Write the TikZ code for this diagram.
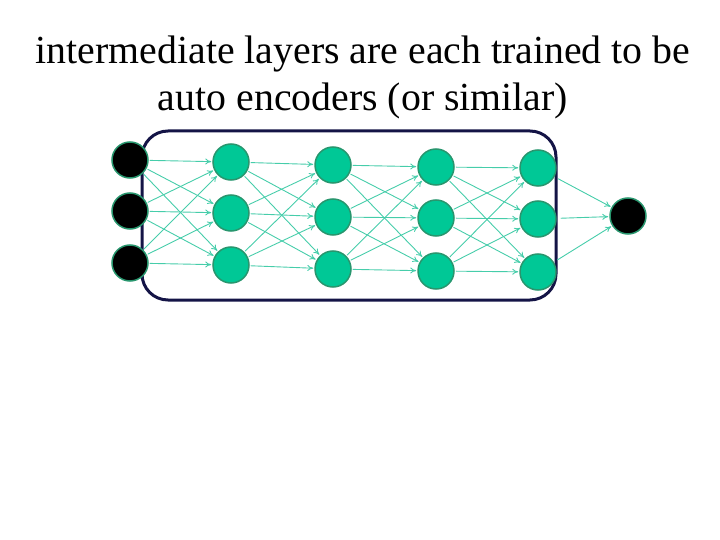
\documentclass[tikz,border=0pt]{standalone}
\usepackage{fontspec}
\setmainfont{Liberation Serif}
\usetikzlibrary{arrows.meta}
\definecolor{nodegreen}{RGB}{0,200,150}
\definecolor{nodeborder}{RGB}{40,150,110}
\definecolor{edgecol}{RGB}{70,205,170}
\definecolor{boxcol}{RGB}{20,20,70}
\begin{document}
\begin{tikzpicture}[x=1bp,y=-1bp,
  unit/.style={circle,minimum size=36bp,inner sep=0pt,fill=nodegreen,draw=nodeborder,line width=1.5bp},
  inunit/.style={circle,minimum size=36bp,inner sep=0pt,fill=black,draw=nodeborder,line width=1.5bp},
  edge/.style={draw=edgecol,line width=0.9bp,-{To[length=6bp,width=6bp]},shorten >=1bp,shorten <=1bp},
  title/.style={align=center,font=\fontsize{39.8bp}{47bp}\selectfont,inner sep=0pt}]
\useasboundingbox (0,0) rectangle (720,540);
\node[title,anchor=base] (t) at (363,111) {intermediate layers are each trained to be\\auto encoders (or similar)};
\draw[boxcol,line width=3bp,rounded corners=26bp] (142,131) rectangle (556,300);
% input
\node[inunit] (i1) at (130,160) {};
\node[inunit] (i2) at (130,211) {};
\node[inunit] (i3) at (130,263) {};
% layers
\node[unit] (a1) at (231,162) {};
\node[unit] (a2) at (231,213) {};
\node[unit] (a3) at (231,265) {};
\node[unit] (b1) at (333,165) {};
\node[unit] (b2) at (333,217) {};
\node[unit] (b3) at (333,269) {};
\node[unit] (c1) at (436,167) {};
\node[unit] (c2) at (436,218) {};
\node[unit] (c3) at (436,271) {};
\node[unit] (d1) at (538,168) {};
\node[unit] (d2) at (538,219) {};
\node[unit] (d3) at (538,272) {};
\node[inunit] (o) at (628,216) {};
\foreach \s/\t in {i/a,a/b,b/c,c/d}{
  \foreach \p in {1,2,3}{
    \foreach \q in {1,2,3}{
      \draw[edge] (\s\p) -- (\t\q);
    }
  }
}
\foreach \p in {1,2,3}{
  \draw[edge,shorten <=4bp] (d\p) -- (o);
}
\end{tikzpicture}
\end{document}
